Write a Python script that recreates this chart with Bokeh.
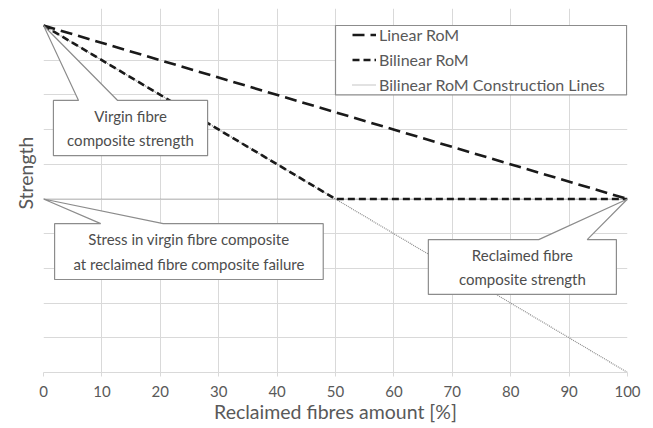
from bokeh.plotting import figure
from bokeh.models import Range1d, FixedTicker, Legend, LegendItem
from bokeh.core.properties import value
from bokeh.embed import file_html
from bokeh.resources import INLINE

# ---- data ----
x_ticks = [0, 10, 20, 30, 40, 50, 60, 70, 80, 90, 100]
y_grid = [0, 1, 2, 3, 4, 5, 6, 7, 8, 9, 10]

linear_x = [0, 100]
linear_y = [10, 5]
bilinear_x = [0, 50, 100]
bilinear_y = [10, 5, 5]
constr_h_x = [0, 100]
constr_h_y = [5, 5]
constr_d_x = [0, 100]
constr_d_y = [10, 0]

# callouts: text, tip (x, y), box (x0, x1, ytop, ybot), pointer base (xa, xb)
callout_texts = ["Virgin fibre\ncomposite strength",
                 "Stress in virgin fibre composite\nat reclaimed fibre composite failure",
                 "Reclaimed fibre\ncomposite strength"]
callout_tips = [(0, 10), (0, 5), (100, 5)]
callout_boxes = [(1.7, 28.1, 7.84, 6.25), (1.9, 47.9, 4.29, 2.68), (65.9, 98.1, 3.83, 2.25)]
callout_bases = [(6.0, 12.7), (9.8, 20.5), (84.8, 93.1)]

FONT = "Lato"
GREY_TXT = "#595959"
GRID = "#d9d9d9"

p = figure(width=653, height=428, output_backend="svg", toolbar_location=None,
           x_range=Range1d(0, 100), y_range=Range1d(0, 10.49),
           frame_width=584, frame_height=364,
           min_border_left=43, min_border_right=26, min_border_top=8, min_border_bottom=56)
p.outline_line_color = None
p.background_fill_color = "white"
p.border_fill_color = "white"

p.xaxis.ticker = FixedTicker(ticks=x_ticks)
p.yaxis.ticker = FixedTicker(ticks=[])
p.xgrid.ticker = FixedTicker(ticks=x_ticks)
p.ygrid.ticker = FixedTicker(ticks=y_grid)
p.xgrid.grid_line_color = GRID
p.ygrid.grid_line_color = GRID
p.xgrid.grid_line_width = 1
p.ygrid.grid_line_width = 1

p.xaxis.axis_line_color = GRID
p.xaxis.major_tick_line_color = GRID
p.xaxis.major_tick_out = 4
p.xaxis.major_tick_in = 0
p.xaxis.minor_tick_line_color = None
p.xaxis.major_label_text_font = FONT
p.xaxis.major_label_text_font_size = "15px"
p.xaxis.major_label_text_color = GREY_TXT
p.xaxis.major_label_standoff = 9
p.xaxis.axis_label = "Reclaimed fibres amount [%]"
p.xaxis.axis_label_text_font = FONT
p.xaxis.axis_label_text_font_size = "19.5px"
p.xaxis.axis_label_text_font_style = "normal"
p.xaxis.axis_label_text_color = GREY_TXT
p.xaxis.axis_label_standoff = 0

p.yaxis.axis_line_color = None
p.yaxis.major_tick_line_color = None
p.yaxis.minor_tick_line_color = None
p.yaxis.major_label_standoff = 0
# leading no-break spaces lift the title a little above the frame centre, as in the reference
p.yaxis.axis_label = "\u00a0" * 7 + "Strength"
p.yaxis.axis_label_text_font = FONT
p.yaxis.axis_label_text_font_size = "19.5px"
p.yaxis.axis_label_text_font_style = "normal"
p.yaxis.axis_label_text_color = GREY_TXT
p.yaxis.axis_label_standoff = 7

# lines
r_cd = p.line(constr_d_x, constr_d_y, line_color="#8a8a8a", line_width=1.2, line_dash="1 1")
r_ch = p.line(constr_h_x, constr_h_y, line_color="#8a8a8a", line_width=1.2, line_dash="1 1")
r_lin = p.line(linear_x, linear_y, line_color="#1a1a1a", line_width=2.6, line_dash="12 6")
r_bil = p.line(bilinear_x, bilinear_y, line_color="#1a1a1a", line_width=2.6, line_dash="7 4")

# callouts
for txt, tip, box, base in zip(callout_texts, callout_tips, callout_boxes, callout_bases):
    x0, x1, yt, yb = box
    xa, xb = base
    xs = [x0, xa, tip[0], xb, x1, x1, x0]
    ys = [yt, yt, tip[1], yt, yt, yb, yb]
    p.patch(xs, ys, fill_color="white", line_color="#8c8c8c", line_width=1.2)
    p.text(x=[(x0 + x1) / 2], y=[(yt + yb) / 2], text=[txt],
           text_align="center", text_baseline="middle",
           text_font=value(FONT), text_font_size="15px", text_color="#4d4d4d",
           text_line_height=1.35)

# legend frame (spans the right half of the plot, top two grid rows)
p.quad(left=[50], right=[99.85], bottom=[8.0], top=[10.0],
       fill_color="white", line_color="#8c8c8c", line_width=1.2)

legend = Legend(items=[
    LegendItem(label="Linear RoM", renderers=[r_lin]),
    LegendItem(label="Bilinear RoM", renderers=[r_bil]),
    LegendItem(label="Bilinear RoM Construction Lines", renderers=[r_ch]),
], location=(309, 278))
legend.label_text_font = FONT
legend.label_text_font_size = "16px"
legend.label_text_color = GREY_TXT
legend.border_line_color = None
legend.background_fill_alpha = 0
legend.glyph_width = 24
legend.glyph_height = 17
legend.label_height = 17
legend.label_standoff = 3
legend.spacing = 6
legend.padding = 3
legend.margin = 0
p.add_layout(legend, "center")

open("out.html", "w").write(file_html(p, INLINE))
